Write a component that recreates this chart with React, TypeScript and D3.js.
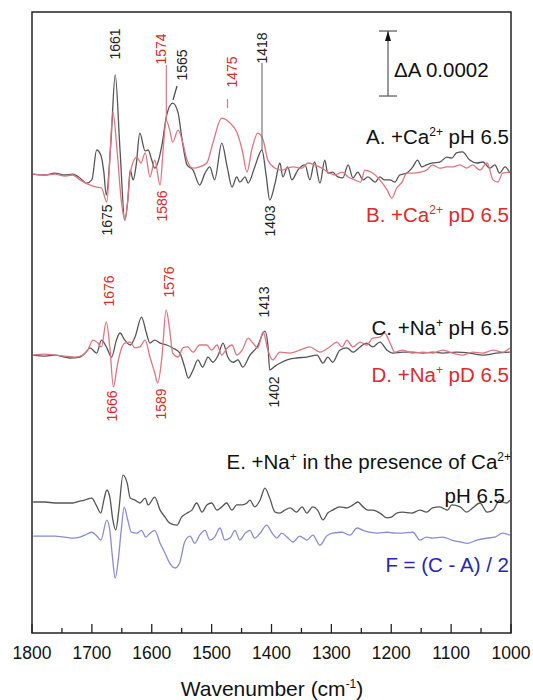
import React from "react";
import * as d3 from "d3";

// wavenumber (cm-1), ΔA in units of 1e-5
const specA: [number, number][] = [
  [1798, 0], [1778, -0.3], [1762, 0.3], [1745, -0.3], [1732, 0], [1720, -1.2], [1709, -2.8], [1700, -1.8],
  [1692, 7.4], [1685, 5.8], [1680, 0.6], [1676, -6.5], [1668, 10.5], [1661, 30.5], [1653, 7.4], [1645, -14.2],
  [1640, -8], [1636, 1.2], [1631, -1.8], [1626, 2.8], [1620, 12.6], [1611, 7.1], [1606, 7.4], [1600, 4.3],
  [1595, 1.8], [1590, 3.4], [1583, 8.9], [1575, 18.2], [1565, 21.8], [1556, 18.8], [1550, 11.4], [1541, 2.8],
  [1531, 1.2], [1520, -3.4], [1511, 0.3], [1503, 2.2], [1495, -1.8], [1483, 9.5], [1474, 2.2], [1466, -4],
  [1458, -0.9], [1453, -2.5], [1444, -0.9], [1439, -2.8], [1428, 2.2], [1416, 7.4], [1409, -0.3], [1403, -8],
  [1394, -2.8], [1386, 3.4], [1381, -0.9], [1373, 2.2], [1366, -1.8], [1356, 1.2], [1344, 2.8], [1336, -1.8],
  [1328, 3.7], [1319, -2.8], [1311, 4.3], [1306, 0.3], [1298, 0.6], [1289, -0.9], [1281, -1.2], [1272, 2.8],
  [1264, -1.2], [1256, 0.6], [1247, -1.8], [1239, -0.9], [1227, -2.5], [1219, -0.9], [1211, -1.8], [1202, -1.8],
  [1194, -2.5], [1186, -0.3], [1174, 0.3], [1164, 2.2], [1156, 4.3], [1149, 2.2], [1141, 2.8], [1131, 3.4],
  [1119, 3.7], [1107, 5.2], [1099, 4.9], [1091, 6.5], [1081, 6.8], [1069, 4.3], [1057, 3.4], [1047, 3.7],
  [1035, 1.8], [1027, 2.8], [1019, 0.3], [1010, 2.2], [1002, 0.3],
];

const specB: [number, number][] = [
  [1798, 0], [1778, -0.3], [1762, 0], [1745, -0.6], [1732, -0.3], [1720, -1.8], [1703, -3.4], [1692, -4],
  [1684, -4.3], [1675, -8.6], [1670, 4.3], [1665, 19.1], [1658, 7.4], [1651, -8], [1645, -14.2], [1640, -8],
  [1636, 0.3], [1625, 5.2], [1618, 3.4], [1611, 6.5], [1603, -0.9], [1595, 4.3], [1586, -3.4], [1581, 7.4],
  [1576, 16.6], [1570, 13.5], [1565, 9.8], [1556, 13.5], [1548, 9.5], [1541, 4.3], [1531, 1.8], [1520, 2.2],
  [1508, 3.4], [1498, 9.5], [1483, 17.2], [1471, 16], [1458, 12.9], [1449, 7.4], [1441, 0.6], [1433, 7.4],
  [1423, 12.6], [1414, 10.5], [1406, 4.3], [1394, 1.8], [1383, 1.2], [1373, 1.8], [1364, 2.2], [1349, 1.8],
  [1339, 3.4], [1328, 2.8], [1316, 1.8], [1306, 0.6], [1294, -0.3], [1282, 0.6], [1272, -0.9], [1261, -1.8],
  [1251, -2.5], [1244, 1.2], [1231, 0.3], [1219, -1.8], [1207, -4.9], [1199, -7.4], [1191, -4.3], [1182, -2.5],
  [1174, 0.3], [1164, 0.3], [1152, 0.6], [1141, 1.2], [1131, 2.8], [1119, 1.8], [1107, 2.2], [1097, 2.2],
  [1085, 2.8], [1074, 1.8], [1064, 2.8], [1052, 1.2], [1040, 3.4], [1030, -1.8], [1022, -2.5], [1014, 0.3],
  [1002, 0.6],
];

const specC: [number, number][] = [
  [1798, 0], [1778, -0.3], [1762, 0], [1745, -0.6], [1737, -0.9], [1720, -0.6], [1710, 0.9], [1703, 2.2],
  [1692, 0.6], [1684, 4.6], [1675, 2.2], [1667, -0.6], [1659, 4.6], [1653, 6.8], [1645, 4.6], [1636, 3.1],
  [1628, 5.5], [1617, 11.7], [1609, 6.8], [1603, 3.7], [1595, 4.6], [1586, 3.7], [1575, 3.1], [1565, 2.2],
  [1553, 0.6], [1545, -3.7], [1539, -7.1], [1531, -4.6], [1523, -1.5], [1515, -3.7], [1506, -0.6], [1498, -2.2],
  [1489, 0], [1481, 3.7], [1473, -0.6], [1464, -2.2], [1456, -1.5], [1448, -3.7], [1436, 0], [1424, 2.5],
  [1411, 7.4], [1406, 3.1], [1403, -4.6], [1394, -3.4], [1386, -2.5], [1374, -1.5], [1358, -0.9], [1341, -0.6],
  [1324, 0], [1314, -2.5], [1306, -0.6], [1298, -2.2], [1286, 1.5], [1274, 2.2], [1264, 0.9], [1252, 2.5],
  [1241, 3.7], [1231, 2.5], [1219, 4], [1207, 1.5], [1197, 0.6], [1181, 0.9], [1164, 0.9], [1147, 0.6],
  [1131, 0.9], [1114, 0.6], [1091, 0.9], [1069, 0.6], [1047, 0], [1024, 0.6], [1002, 0.9],
];

const specD: [number, number][] = [
  [1798, 0], [1778, 0.3], [1762, 0], [1745, -0.3], [1728, -0.6], [1715, 0], [1707, 1.5], [1698, 4.6],
  [1690, 3.7], [1684, 2.5], [1676, 10.2], [1670, 2.5], [1664, -9.8], [1658, -3.7], [1653, 0.6], [1645, 3.7],
  [1636, 4], [1628, 2.2], [1620, 2.5], [1611, 4.6], [1603, -0.6], [1595, -5.5], [1590, -8.6], [1583, -0.6],
  [1576, 13.9], [1570, 7.7], [1565, 0.6], [1556, -0.6], [1548, 2.2], [1540, 2.5], [1531, 0.9], [1520, 3.1],
  [1508, 3.1], [1500, 1.5], [1491, 3.1], [1483, 0], [1474, 2.2], [1466, 3.1], [1458, 0], [1449, 1.5],
  [1439, 5.2], [1431, 3.7], [1423, 2.2], [1414, 7.1], [1406, 1.5], [1398, -1.5], [1386, 0.9], [1369, 0.6],
  [1353, 1.5], [1336, 2.5], [1319, 0.9], [1303, 2.5], [1291, 4], [1282, 2.5], [1274, 4.6], [1264, 2.5],
  [1252, 4], [1241, 3.1], [1231, 5.2], [1219, 5.5], [1211, 6.8], [1202, 3.7], [1194, 0.9], [1181, 1.5],
  [1164, 0.6], [1147, 0.9], [1131, 0.6], [1114, 1.5], [1097, 0.6], [1081, 0], [1064, 0.9], [1047, 0.6],
  [1030, 1.5], [1014, 0.9], [1002, 2.2],
];

const specE: [number, number][] = [
  [1798, 0], [1778, 0], [1762, -0.3], [1745, -0.3], [1732, -0.3], [1720, 0.3], [1712, 0.6], [1700, 1.2],
  [1693, -0.9], [1685, -3.4], [1680, 0.6], [1675, 3.7], [1670, 1.5], [1665, -5.5], [1660, -8.6], [1655, -2.5],
  [1648, 8.3], [1641, 5.8], [1636, 1.2], [1628, 0.6], [1620, -0.3], [1611, 1.2], [1606, -0.9], [1595, 1.5],
  [1586, -2.5], [1578, -4.6], [1570, -6.5], [1558, -7.1], [1550, -4.6], [1541, -3.4], [1533, -2.5], [1525, -0.3],
  [1516, -3.1], [1508, -0.9], [1500, -0.3], [1491, -2.5], [1483, -1.5], [1475, -0.3], [1466, -2.5], [1458, -0.9],
  [1449, -0.9], [1441, -0.3], [1436, 0.6], [1428, -1.5], [1419, 0.6], [1411, 4.3], [1403, 1.2], [1394, -3.1],
  [1386, -3.4], [1378, -2.5], [1369, -1.8], [1358, -3.1], [1349, -1.5], [1341, -3.4], [1331, -1.5], [1323, -2.5],
  [1314, -5.5], [1306, -3.4], [1298, -2.5], [1286, -1.5], [1274, -1.8], [1264, -0.9], [1256, 0], [1247, -1.5],
  [1239, -2.5], [1231, -2.5], [1219, -3.4], [1207, -4.9], [1199, -4.6], [1191, -3.4], [1181, -3.1], [1166, -3.4],
  [1152, -2.5], [1141, -3.1], [1131, -1.8], [1119, -1.5], [1106, -2.5], [1099, -0.9], [1085, -1.5], [1074, -3.1],
  [1064, -1.8], [1052, -0.3], [1040, -3.1], [1030, -2.5], [1019, 0.6], [1014, 0], [1007, -0.3], [1002, 0.6],
];

const specF: [number, number][] = [
  [1798, 0], [1778, 0], [1762, 0], [1745, -0.3], [1732, -0.6], [1720, -0.3], [1712, 0.3], [1700, 1.2],
  [1693, 0.3], [1685, -1.2], [1675, 4.9], [1670, 1.8], [1666, -5.8], [1661, -12.9], [1656, -7.4], [1651, 1.8],
  [1646, 8.9], [1640, 4.9], [1634, 1.2], [1625, 0.9], [1617, 1.8], [1610, -0.3], [1603, 0.9], [1595, 1.8],
  [1586, -2.2], [1578, -5.2], [1570, -8.3], [1561, -9.8], [1553, -8], [1545, -1.8], [1536, 0], [1528, -2.2],
  [1520, 0.3], [1511, 1.8], [1503, -1.2], [1495, -0.3], [1486, 2.5], [1478, -1.2], [1469, -0.6], [1461, 1.8],
  [1453, -1.2], [1444, 0.9], [1436, 1.8], [1428, -0.6], [1419, 0.9], [1408, 3.4], [1399, 0.9], [1391, -0.6],
  [1383, 0.9], [1374, -0.3], [1364, -1.8], [1353, 0], [1341, -1.2], [1331, 0.3], [1319, -2.8], [1308, 0],
  [1298, 0.9], [1282, 1.2], [1269, 0.3], [1257, 2.5], [1247, 1.8], [1236, 1.2], [1222, 0.9], [1207, 1.2],
  [1194, 0.9], [1181, 0.9], [1164, 1.2], [1152, -1.2], [1141, -0.3], [1131, -0.6], [1114, -0.3], [1099, -1.2],
  [1085, -1.8], [1072, -2.2], [1057, -1.2], [1040, -0.6], [1027, -0.3], [1014, 0.9], [1002, 0.3],
];

// vertical stacking offsets (same units)
const offsets = { A: 0, B: 0, C: -55.7, D: -55.7, E: -100.9, F: -111.4 };

const xTicks = [1800, 1700, 1600, 1500, 1400, 1300, 1200, 1100, 1000];
const xMinorTicks = [1750, 1650, 1550, 1450, 1350, 1250, 1150, 1050];

const BLACK = "#555";
const RED = "#df7580";
const BLUE = "#8a8ad8";
const RED_TXT = "#dd2a2a";
const BLUE_TXT = "#2626b8";

// peak labels: text, centre position, colour
const peakLabels = [
  { t: "1661", x: 115, y: 44, c: "#222" },
  { t: "1574", x: 161, y: 49, c: RED_TXT },
  { t: "1565", x: 182, y: 65, c: "#222" },
  { t: "1475", x: 232, y: 72, c: RED_TXT },
  { t: "1418", x: 262, y: 48, c: "#222" },
  { t: "1675", x: 107, y: 220, c: "#222" },
  { t: "1586", x: 162, y: 206, c: RED_TXT },
  { t: "1403", x: 270, y: 221, c: "#222" },
  { t: "1676", x: 109, y: 291, c: RED_TXT },
  { t: "1576", x: 169, y: 282, c: RED_TXT },
  { t: "1413", x: 264, y: 302, c: "#222" },
  { t: "1666", x: 112, y: 406, c: RED_TXT },
  { t: "1589", x: 161, y: 404, c: RED_TXT },
  { t: "1402", x: 274, y: 392, c: "#222" },
];

const FONT = "Liberation Sans, Arial, sans-serif";

export default function App() {
  const left = 32, right = 511, top = 12, bottom = 633;
  const x = d3.scaleLinear().domain([1800, 1000]).range([left, right]);
  const y = d3.scaleLinear().domain([-141.2, 49.85]).range([bottom, top]);

  const line = (off: number) =>
    d3
      .line<[number, number]>()
      .x((d) => x(d[0]))
      .y((d) => y(d[1] + off))
      .curve(d3.curveMonotoneX);

  const traces = [
    { d: specA, off: offsets.A, c: BLACK },
    { d: specB, off: offsets.B, c: RED },
    { d: specC, off: offsets.C, c: BLACK },
    { d: specD, off: offsets.D, c: RED },
    { d: specE, off: offsets.E, c: BLACK },
    { d: specF, off: offsets.F, c: BLUE },
  ];

  // scale bar: 0.0002 = 20 units
  const barX = 388;
  const barTop = y(44);
  const barBot = y(24);
  const fs = 20.5;
  const sup = 12;

  return (
    <svg width={533} height={700} style={{ position: "absolute", left: 0, top: 0 }} fontFamily={FONT}>
      <rect x={0} y={0} width={533} height={700} fill="#fff" />
      {traces.map((t, i) => (
        <path key={i} d={line(t.off)(t.d) || ""} fill="none" stroke={t.c} strokeWidth={1.3} />
      ))}

      {/* leader lines */}
      <line x1={x(1574) - 1} x2={x(1574) - 1} y1={65} y2={120} stroke={RED} strokeWidth={1.2} />
      <line x1={177} y1={86} x2={173} y2={100} stroke="#444" strokeWidth={1.2} />
      <line x1={227.5} y1={99} x2={227.5} y2={108} stroke={RED} strokeWidth={1.2} />
      <line x1={262} y1={63} x2={262} y2={150} stroke="#777" strokeWidth={1.2} />

      {peakLabels.map((p) => (
        <text
          key={p.t + p.x}
          transform={`translate(${p.x},${p.y}) rotate(-90)`}
          textAnchor="middle"
          dominantBaseline="central"
          fontSize={14}
          fill={p.c}
        >
          {p.t}
        </text>
      ))}

      {/* scale bar */}
      <line x1={barX} x2={barX} y1={barTop} y2={barBot} stroke="#555" strokeWidth={1.2} />
      <line x1={barX - 9} x2={barX + 9} y1={barTop} y2={barTop} stroke="#555" strokeWidth={1.2} />
      <line x1={barX - 9} x2={barX + 9} y1={barBot} y2={barBot} stroke="#555" strokeWidth={1.2} />
      <path d={`M${barX},${barTop} L${barX - 3},${barTop + 10} L${barX + 3},${barTop + 10} Z`} fill="#111" />
      <text x={394} y={77} fontSize={fs} fill="#111">ΔA 0.0002</text>

      {/* series labels */}
      <text x={509} y={144} textAnchor="end" fontSize={fs} fill="#111">
        A. +Ca<tspan dy={-8} fontSize={sup}>2+</tspan><tspan dy={8}> pH 6.5</tspan>
      </text>
      <text x={509} y={222} textAnchor="end" fontSize={fs} fill={RED_TXT}>
        B. +Ca<tspan dy={-8} fontSize={sup}>2+</tspan><tspan dy={8}> pD 6.5</tspan>
      </text>
      <text x={509} y={335} textAnchor="end" fontSize={fs} fill="#111">
        C. +Na<tspan dy={-8} fontSize={sup}>+</tspan><tspan dy={8}> pH 6.5</tspan>
      </text>
      <text x={509} y={382} textAnchor="end" fontSize={fs} fill={RED_TXT}>
        D. +Na<tspan dy={-8} fontSize={sup}>+</tspan><tspan dy={8}> pD 6.5</tspan>
      </text>
      <text x={511} y={469} textAnchor="end" fontSize={fs} fill="#111">
        E. +Na<tspan dy={-8} fontSize={sup}>+</tspan><tspan dy={8}> in the presence of Ca</tspan>
        <tspan dy={-8} fontSize={sup}>2+</tspan>
      </text>
      <text x={505} y={503} textAnchor="end" fontSize={fs} fill="#111">pH 6.5</text>
      <text x={509} y={572} textAnchor="end" fontSize={fs} fill={BLUE_TXT}>F = (C - A) / 2</text>

      {/* frame */}
      <rect x={left} y={top} width={right - left} height={bottom - top} fill="none" stroke="#222" strokeWidth={1.5} />

      {/* ticks */}
      {xTicks.map((t) => (
        <g key={t}>
          <line x1={x(t)} x2={x(t)} y1={bottom} y2={bottom - 9} stroke="#222" strokeWidth={1.3} />
          <text x={x(t)} y={659} textAnchor="middle" fontSize={17.5} fill="#111">
            {t}
          </text>
        </g>
      ))}
      {xMinorTicks.map((t) => (
        <line key={t} x1={x(t)} x2={x(t)} y1={bottom} y2={bottom - 5} stroke="#222" strokeWidth={1.3} />
      ))}

      <text x={272} y={696} textAnchor="middle" fontSize={21} fill="#111">
        Wavenumber (cm<tspan dy={-8} fontSize={sup}>-1</tspan><tspan dy={8}>)</tspan>
      </text>
    </svg>
  );
}
